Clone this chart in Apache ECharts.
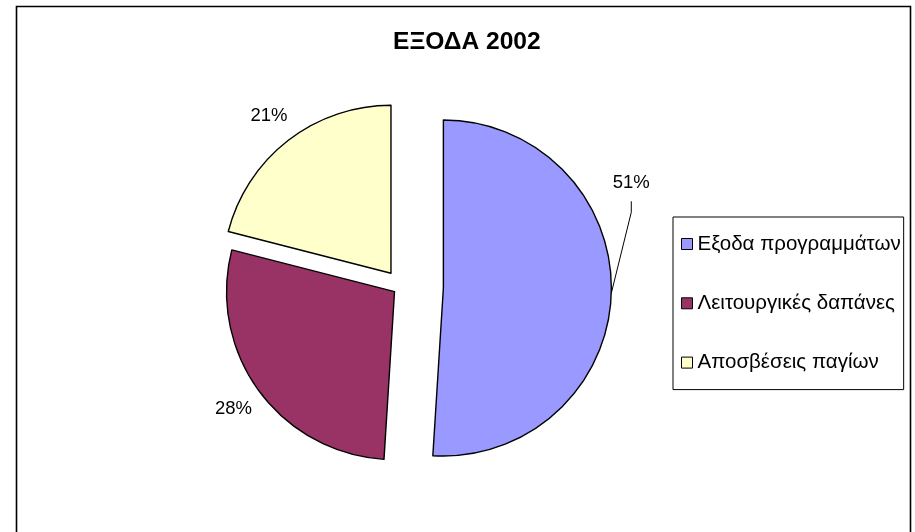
<!DOCTYPE html>
<html>
<head>
<meta charset="utf-8">
<script src="https://cdn.jsdelivr.net/npm/echarts@6/dist/echarts.min.js"></script>
<style>
  html, body { margin: 0; padding: 0; background: #ffffff; }
  #chart { width: 915px; height: 532px; }
</style>
</head>
<body>
<div id="chart"></div>
<script>
// Expense breakdown for 2002 (percent of total)
const chartTitle = 'ΕΞΟΔΑ 2002';
const categories = ['Εξοδα προγραμμάτων', 'Λειτουργικές δαπάνες', 'Αποσβέσεις παγίων'];
const values = [51, 28, 21];
const colors = ['#9999FF', '#993366', '#FFFFCC'];

// Layout constants for the exploded pie
const FONT = '"Liberation Sans", Arial, sans-serif';
const baseCenter = [401.4, 286.7];
const radius = 168;
const explode = [42, 8.5, 17];   // how far each slice is pulled out along its mid-angle

// Mid-angle of every slice, measured clockwise from 12 o'clock (radians)
const total = values.reduce((a, b) => a + b, 0);
const midAngles = [];
let acc = 0;
values.forEach(v => {
  midAngles.push(((acc + v / 2) / total) * Math.PI * 2);
  acc += v;
});
const dirOf = a => [Math.sin(a), -Math.cos(a)];

const sliceCenters = midAngles.map((a, i) => {
  const d = dirOf(a);
  return [baseCenter[0] + d[0] * explode[i], baseCenter[1] + d[1] * explode[i]];
});

// Each slice gets its own series (sharing the full data so angles stay right),
// with only its own item visible; this lets every slice have a different offset.
const series = categories.map((name, s) => ({
  type: 'pie',
  name: name,
  center: sliceCenters[s],
  radius: radius,
  startAngle: 90,
  clockwise: true,
  avoidLabelOverlap: false,
  silent: true,
  animation: false,
  label: {
    show: true,
    position: 'outside',
    formatter: p => p.percent.toFixed(0) + '%',
    fontFamily: FONT,
    fontSize: 18.5,
    color: '#000'
  },
  labelLine: { show: s === 0, lineStyle: { color: '#000', width: 1 } },
  labelLayout: function (params) {
    const i = params.dataIndex;
    if (i !== s) return {};
    const c = sliceCenters[s];
    const d = dirOf(midAngles[s]);
    const arc = [c[0] + d[0] * radius, c[1] + d[1] * radius];
    if (s === 0) {
      // label lifted above the legend, joined to the slice by a leader line
      const x = arc[0] + 20, y = arc[1] - 110;
      return {
        x: x, y: y, align: 'center', verticalAlign: 'middle',
        labelLinePoints: [arc, [x, y + 29], [x, y + 18]]
      };
    }
    const dist = radius + 31;
    return {
      x: c[0] + d[0] * dist,
      y: c[1] + d[1] * dist,
      align: 'center',
      verticalAlign: 'middle'
    };
  },
  data: categories.map((n, i) => i === s ? {
    name: n,
    value: values[i],
    itemStyle: { color: colors[i], borderColor: '#000', borderWidth: 1.4 }
  } : {
    name: n,
    value: values[i],
    itemStyle: { color: 'rgba(0,0,0,0)', borderWidth: 0 },
    label: { show: false },
    labelLine: { show: false }
  })
}));

const chart = echarts.init(document.getElementById('chart'), null, { renderer: 'canvas' });
chart.setOption({
  backgroundColor: '#ffffff',
  title: {
    text: chartTitle,
    left: 388,
    top: 25,
    textStyle: { fontFamily: FONT, fontSize: 24.6, fontWeight: 'bold', color: '#000' }
  },
  legend: {
    orient: 'vertical',
    left: 673,
    top: 217,
    padding: [16.5, 3, 16.5, 8],
    itemGap: 38.3,
    itemWidth: 11,
    itemHeight: 11,
    icon: 'rect',
    borderColor: '#000',
    borderWidth: 1,
    backgroundColor: '#fff',
    selectedMode: false,
    textStyle: { fontFamily: FONT, fontSize: 20.5, lineHeight: 21, color: '#000' },
    data: categories.map((n, i) => ({
      name: n,
      itemStyle: { color: colors[i], borderColor: '#000', borderWidth: 1 }
    }))
  },
  graphic: [{
    type: 'rect',
    silent: true,
    shape: { x: 16.5, y: 6.5, width: 894, height: 600 },
    style: { fill: 'none', stroke: '#000', lineWidth: 1.6 }
  }],
  series: series
});
</script>
</body>
</html>
